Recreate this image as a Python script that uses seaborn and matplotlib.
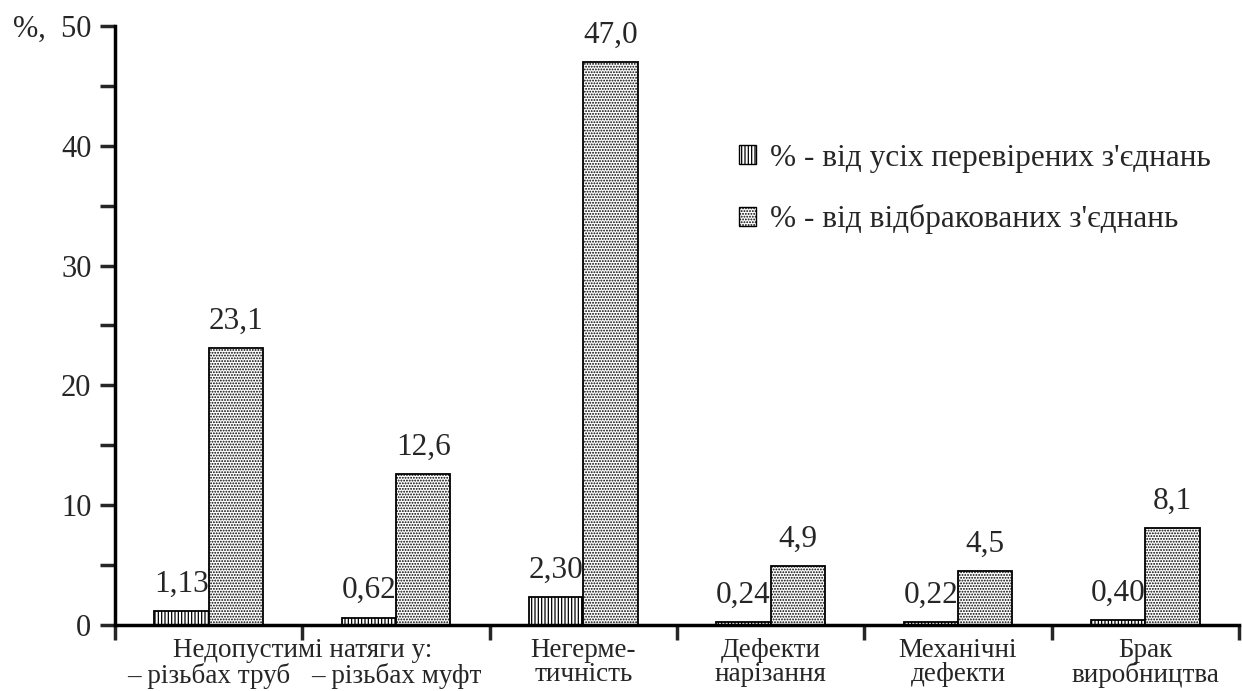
import pandas as pd
import seaborn as sns
import numpy as np
import matplotlib.pyplot as plt
import matplotlib.patches as mpatches

# data
categories = ['c1', 'c2', 'c3', 'c4', 'c5', 'c6']
cat_labels = ['– різьбах труб', '– різьбах муфт', 'Негерме-\nтичність',
              'Дефекти\nнарізання', 'Механічні\nдефекти', 'Брак\nвиробництва']
group_title = 'Недопустимі натяги у:'
series = ['% - від усіх перевірених з\'єднань', '% - від відбракованих з\'єднань']
all_checked = [1.13, 0.62, 2.30, 0.24, 0.22, 0.40]
rejected = [23.1, 12.6, 47.0, 4.9, 4.5, 8.1]
label_all = ['1,13', '0,62', '2,30', '0,24', '0,22', '0,40']
label_rej = ['23,1', '12,6', '47,0', '4,9', '4,5', '8,1']
yticks = [0, 10, 20, 30, 40, 50]
ytick_labels = ['0', '10', '20', '30', '40', '%,  50']

df = pd.DataFrame({
    'cat': categories * 2,
    'series': [series[0]] * 6 + [series[1]] * 6,
    'value': all_checked + rejected,
})

sns.set_theme(style='white')
plt.rcParams['font.family'] = ['Liberation Serif', 'DejaVu Serif']
plt.rcParams['hatch.linewidth'] = 0.9

fig = plt.figure(figsize=(12.42, 6.91), dpi=100)
ax = fig.add_axes([0.0926, 0.0955, 0.905, 0.8669])

sns.barplot(data=df, x='cat', y='value', hue='series', order=categories,
            hue_order=series, width=0.58, palette=['white', 'white'],
            edgecolor='black', linewidth=1.3, saturation=1, legend=False, ax=ax)

hatches = ['|||||', '......']
for cont, h, labs in zip(ax.containers, hatches, [label_all, label_rej]):
    for bar in cont:
        bar.set_hatch(h)
    ax.bar_label(cont, labels=labs, padding=9, fontsize=22.5)

ax.set_xlim(-0.5, 5.5)
ax.set_ylim(0, 50)
ax.set_yticks(yticks)
ax.set_yticklabels(ytick_labels, fontsize=22)
ax.set_yticks(np.arange(5, 50, 10), minor=True)
ax.set_xticks(range(6))
xpad = 9.5
line_pt = 17.5
ax.set_xticklabels(cat_labels, fontsize=19.5, linespacing=0.93)
ax.set_xticks(np.arange(-0.5, 6, 1), minor=True)
ax.tick_params(axis='x', which='major', length=0, pad=xpad)
ax.tick_params(axis='x', which='minor', length=11, width=2.5, direction='out', bottom=True)
ax.tick_params(axis='y', which='both', length=11, width=2.5, direction='out', left=True, pad=6)
ax.set_xlabel('')
ax.set_ylabel('')
# the two sub-labels sit on the second line, under the shared title
for t in ax.xaxis.get_major_ticks()[:2]:
    t.set_pad(xpad + line_pt)

for side in ['top', 'right']:
    ax.spines[side].set_visible(False)
for side in ['left', 'bottom']:
    ax.spines[side].set_linewidth(2.5)
    ax.spines[side].set_color('black')

# shared first line over the first two groups
ax.annotate(group_title, xy=(0.5, 0), xycoords=ax.get_xaxis_transform(),
            xytext=(0, -xpad), textcoords='offset points',
            ha='center', va='top', fontsize=19.5)

handles = [mpatches.Patch(facecolor='white', edgecolor='black', hatch=h) for h in hatches]
ax.legend(handles, series, loc='upper left', bbox_to_anchor=(0.53, 0.85),
          frameon=False, fontsize=22.5, handlelength=0.55, handleheight=0.55,
          handletextpad=0.45, labelspacing=1.0)

fig.savefig('out.png', dpi=100)
